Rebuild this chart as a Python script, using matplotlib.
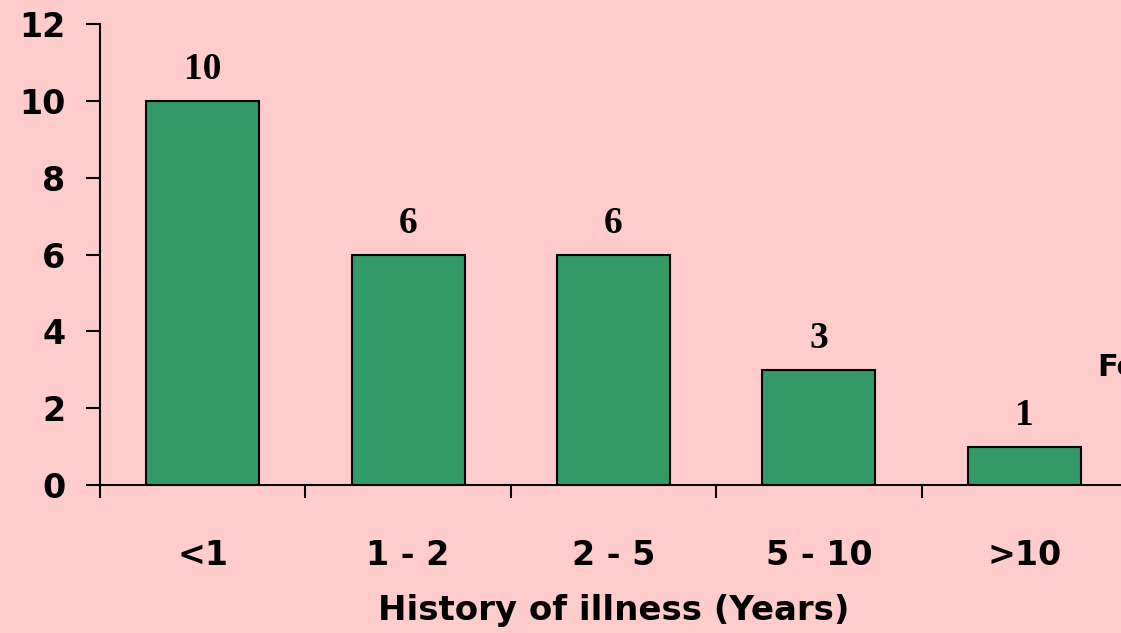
import matplotlib
matplotlib.use("Agg")
import matplotlib.pyplot as plt
import numpy as np

categories = ["<1", "1 - 2", "2 - 5", "5 - 10", ">10"]
values = [10, 6, 6, 3, 1]
yticks = [0, 2, 4, 6, 8, 10, 12]
xlabel = "History of illness (Years)"
legend_text = "Female"

bg = "#FFCCCC"
bar_color = "#339966"

fig = plt.figure(figsize=(11.21, 6.33), dpi=100, facecolor=bg)
ax = fig.add_axes([100/1121, 1-485/633, 1027/1121, (485-24)/633])
ax.set_facecolor(bg)

x = np.arange(len(categories))
ax.bar(x, values, width=0.55, color=bar_color, edgecolor="black", linewidth=1.5, zorder=3)

for xi, v in zip(x, values):
    ax.annotate(str(v), (xi, v), xytext=(0, 10), textcoords="offset points",
                ha="center", va="bottom", fontsize=27, fontweight="bold",
                family=["Liberation Serif", "DejaVu Serif"])

ax.set_xlim(-0.5, len(categories) - 0.5)
ax.set_ylim(0, 12)
ax.set_yticks(yticks)
ax.set_yticklabels([str(t) for t in yticks], fontsize=24, fontweight="bold", family="DejaVu Sans")
ax.tick_params(axis="y", length=10, width=1.5, pad=15)

ax.set_xticks(x)
ax.set_xticklabels(categories, fontsize=24, fontweight="bold", family="DejaVu Sans")
ax.tick_params(axis="x", which="major", length=0, pad=39)
ax.set_xticks(np.arange(len(categories) + 1) - 0.5, minor=True)
ax.tick_params(axis="x", which="minor", length=9, width=1.5, direction="out")

for s in ["top", "right"]:
    ax.spines[s].set_visible(False)
for s in ["left", "bottom"]:
    ax.spines[s].set_linewidth(1.5)

ax.set_xlabel(xlabel, fontsize=24.5, fontweight="bold", family="DejaVu Sans", labelpad=16)

fig.text(1097/1121, 1-368/633, legend_text, fontsize=22, fontweight="bold",
         family="DejaVu Sans", ha="left", va="center")

fig.savefig("out.png", dpi=100, facecolor=bg)
